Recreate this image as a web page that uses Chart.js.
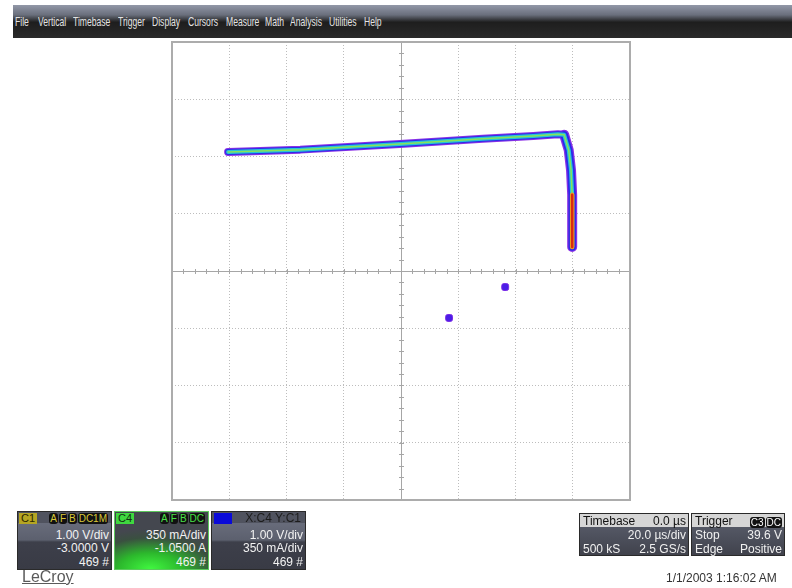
<!DOCTYPE html>
<html>
<head>
<meta charset="utf-8">
<script src="https://cdn.jsdelivr.net/npm/chart.js@4/dist/chart.umd.min.js"></script>
<style>
  html, body { margin: 0; padding: 0; background: #fff; }
  body { width: 792px; height: 588px; position: relative; overflow: hidden; font-family: "Liberation Sans", Arial, sans-serif; }
  #scope { position: absolute; left: 0; top: 0; }
  .menu { position: absolute; left: 13px; top: 5px; width: 779px; height: 33px;
    background: linear-gradient(to bottom, #9298a8 0%, #6a6f7c 30%, #1e1e1e 52%, #2a2a2a 100%); }
  .menu span { position: absolute; top: 9px; font-size: 13px; color: #e4e4e4; transform: scaleX(0.66); transform-origin: left top; white-space: nowrap; }
  .panel { position: absolute; top: 511px; width: 93px; height: 57px; border: 1px solid #2a2a2a;
    background: linear-gradient(to bottom, #50535f 0, #50535f 11px, #686c7b 11px, #5c606e 28px, #3d3f4a 30px, #393b45 100%);
    color: #f2f2f2; font-size: 12px; overflow: hidden; }
  .row { position: absolute; right: 2px; white-space: nowrap; }
  .lft { position: absolute; left: 3px; white-space: nowrap; }
  .badge { position: absolute; top: 1px; height: 11px; line-height: 11px; font-size: 11px; padding: 0 2px; }
  .box { display: inline-block; background: #111; border-radius: 3px; padding: 0 1px; margin-left: 1px; font-size: 10px; line-height: 11px; }
  .hdr { position: absolute; left: 0; top: 0; right: 0; height: 13px; background: #d6d6d6; color: #111; }
  .tb { position: absolute; top: 513px; height: 41px; border: 1px solid #2a2a2a;
    background: linear-gradient(to bottom, #5e6270 0, #4c4f5b 60%, #40424c 100%); color: #f0f0f0; font-size: 12px; }
  .logo { position: absolute; left: 22px; top: 568px; font-size: 16px; color: #5a5a5a; text-decoration: underline; }
  .date { position: absolute; left: 666px; top: 571px; font-size: 12px; color: #333; }
</style>
</head>
<body>
<canvas id="scope" width="792" height="588"></canvas>

<div class="menu">
  <span style="left:2px">File</span>
  <span style="left:25px">Vertical</span>
  <span style="left:60px">Timebase</span>
  <span style="left:105px">Trigger</span>
  <span style="left:139px">Display</span>
  <span style="left:175px">Cursors</span>
  <span style="left:213px">Measure</span>
  <span style="left:252px">Math</span>
  <span style="left:277px">Analysis</span>
  <span style="left:316px">Utilities</span>
  <span style="left:351px">Help</span>
</div>

<div class="panel" style="left:17px">
  <div class="badge" style="left:1px;background:#b5a522;color:#2b2600;">C1</div>
  <div class="badge" style="right:1px;color:#d8c838;"><span class="box">A</span><span class="box">F</span><span class="box">B</span><span class="box">DC1M</span></div>
  <div class="row" style="top:16px">1.00 V/div</div>
  <div class="row" style="top:29px">-3.0000 V</div>
  <div class="row" style="top:43px">469 #</div>
</div>

<div class="panel" style="left:114px;border-color:#5cc85c;background:radial-gradient(ellipse 80px 40px at 38% 100%, #40f840 0%, #2cb82c 40%, #3a5040 78%, #44474f 100%), #44474f;">
  <div class="badge" style="left:1px;background:#3fd83f;color:#123012;">C4</div>
  <div class="badge" style="right:1px;color:#48e048;"><span class="box">A</span><span class="box">F</span><span class="box">B</span><span class="box">DC</span></div>
  <div class="row" style="top:16px">350 mA/div</div>
  <div class="row" style="top:29px">-1.0500 A</div>
  <div class="row" style="top:43px">469 #</div>
</div>

<div class="panel" style="left:211px">
  <div class="badge" style="left:2px;width:14px;background:#0a0ad8;"></div>
  <div class="badge" style="right:2px;color:#1c1c1c;font-size:12px;">X:C4 Y:C1</div>
  <div class="row" style="top:16px">1.00 V/div</div>
  <div class="row" style="top:29px">350 mA/div</div>
  <div class="row" style="top:43px">469 #</div>
</div>

<div class="tb" style="left:579px;width:108px;">
  <div class="hdr"><span class="lft" style="top:0">Timebase</span><span class="row" style="top:0">0.0 µs</span></div>
  <div class="row" style="top:14px">20.0 µs/div</div>
  <div class="lft" style="top:28px">500 kS</div>
  <div class="row" style="top:28px">2.5 GS/s</div>
</div>

<div class="tb" style="left:691px;width:92px;">
  <div class="hdr"><span class="lft" style="top:0">Trigger</span><span class="row" style="top:1px;color:#fff;"><span class="box">C3</span><span class="box">DC</span></span></div>
  <div class="lft" style="top:14px">Stop</div>
  <div class="row" style="top:14px">39.6 V</div>
  <div class="lft" style="top:28px">Edge</div>
  <div class="row" style="top:28px">Positive</div>
</div>

<div class="logo">LeCroy</div>
<div class="date">1/1/2003 1:16:02 AM</div>

<script>
// XY display: X = C4 (350 mA/div), Y = C1 (1.00 V/div), values in screen divisions
const traceX = [-3.02, -1.76, -0.02, 1.43, 2.31, 2.74, 2.85, 2.93, 2.97, 2.99, 2.99, 2.99];
const traceY = [2.08, 2.12, 2.22, 2.31, 2.36, 2.39, 2.38, 2.11, 1.76, 1.33, 0.89, 0.42];
// the falling edge has more spread, and its lower part is the hottest (most hits)
const wideStart = 6;
const hotStart = 9;
const blobX = [0.84, 1.82];
const blobY = [-0.82, -0.28];
const divMin = -4;
const divMax = 4;

const tracePts = traceX.map((x, i) => ({ x: x, y: traceY[i] }));
const widePts = tracePts.slice(wideStart);
const hotPts = tracePts.slice(hotStart);
const blobPts = blobX.map((x, i) => ({ x: x, y: blobY[i] }));

// order: lower number is drawn on top
function layer(data, color, width, order) {
  return {
    data: data, showLine: true, pointRadius: 0, borderColor: color, borderWidth: width,
    borderJoinStyle: 'round', borderCapStyle: 'round', tension: 0, order: order
  };
}

// frame, centre cross and the small sub-division marks
const scopeGrid = {
  id: 'scopeGrid',
  beforeDatasetsDraw(chart) {
    const c = chart.ctx, a = chart.chartArea;
    const xs = chart.scales.x, ys = chart.scales.y;
    const cx = Math.round(xs.getPixelForValue(0)) + 0.5;
    const cy = Math.round(ys.getPixelForValue(0)) + 0.5;
    c.save();
    c.strokeStyle = '#a6a6a6';
    c.lineWidth = 1;
    c.beginPath();
    c.moveTo(a.left, cy); c.lineTo(a.right, cy);
    c.moveTo(cx, a.top); c.lineTo(cx, a.bottom);
    for (let v = divMin; v <= divMax + 1e-9; v += 0.2) {
      const px = Math.round(xs.getPixelForValue(v)) + 0.5;
      const py = Math.round(ys.getPixelForValue(v)) + 0.5;
      c.moveTo(px, cy - 2.5); c.lineTo(px, cy + 2.5);
      c.moveTo(cx - 2.5, py); c.lineTo(cx + 2.5, py);
    }
    c.stroke();
    c.lineWidth = 2;
    c.strokeStyle = '#acacac';
    c.strokeRect(a.left, a.top, a.right - a.left, a.bottom - a.top);
    c.restore();
  }
};

const scaleOpts = {
  type: 'linear', min: divMin, max: divMax,
  ticks: { display: false, stepSize: 1 },
  grid: { color: '#bdbdbd', lineWidth: 1, drawTicks: false },
  border: { display: false, dash: [1, 2] }
};

new Chart(document.getElementById('scope').getContext('2d'), {
  type: 'scatter',
  data: {
    datasets: [
      layer(widePts, '#8a30e6', 10, 9),
      layer(tracePts, '#8a30e6', 8, 8),
      layer(widePts, '#2a2ce8', 7.5, 7),
      layer(tracePts, '#2a2ce8', 6, 6),
      layer(tracePts, '#28c2da', 4, 5),
      layer(tracePts, '#86e35a', 1.5, 4),
      layer(hotPts, '#f0a020', 4.5, 3),
      layer(hotPts, '#d82a12', 2.5, 2),
      { data: blobPts, showLine: false, pointStyle: 'rectRounded', pointRadius: 4, order: 1,
        backgroundColor: '#4a1ee6', borderColor: '#7a2ae8', borderWidth: 1 }
    ]
  },
  options: {
    responsive: false,
    animation: false,
    layout: { padding: { left: 172, top: 42, right: 162, bottom: 88 } },
    plugins: { legend: { display: false }, tooltip: { enabled: false } },
    scales: { x: scaleOpts, y: scaleOpts }
  },
  plugins: [scopeGrid]
});
</script>
</body>
</html>
